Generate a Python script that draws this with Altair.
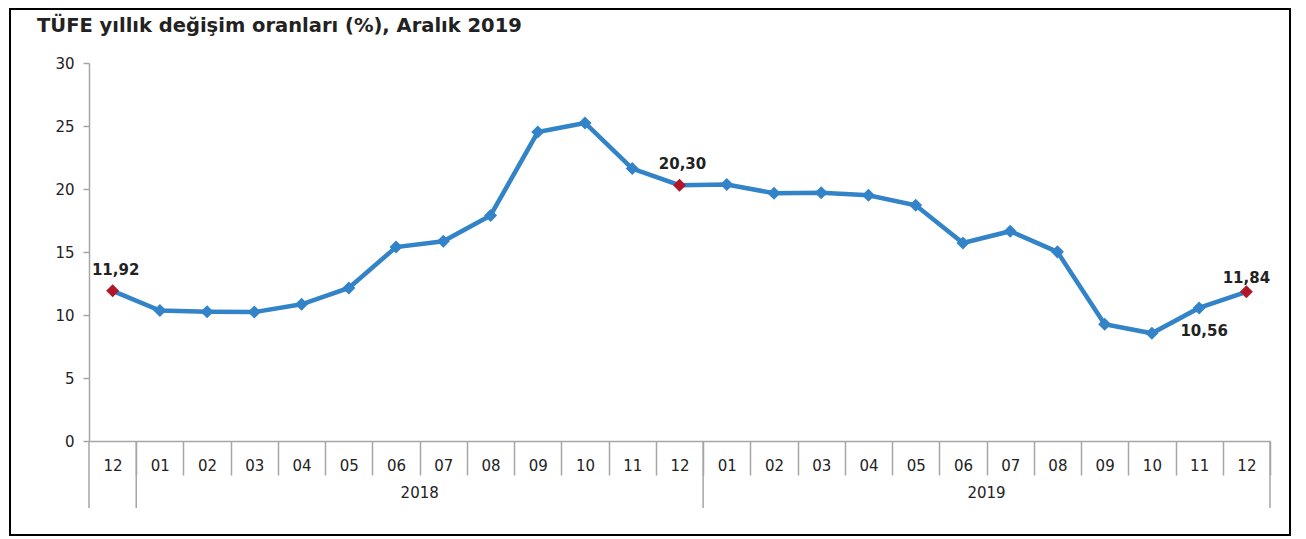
import altair as alt
import pandas as pd

# ---- data ----
months = ["12", "01", "02", "03", "04", "05", "06", "07", "08", "09", "10", "11", "12",
          "01", "02", "03", "04", "05", "06", "07", "08", "09", "10", "11", "12"]
years = ["2017", "2018", "2018", "2018", "2018", "2018", "2018", "2018", "2018", "2018", "2018", "2018", "2018",
         "2019", "2019", "2019", "2019", "2019", "2019", "2019", "2019", "2019", "2019", "2019", "2019"]
values = [11.92, 10.35, 10.26, 10.23, 10.85, 12.15, 15.39, 15.85, 17.90, 24.52, 25.24, 21.62, 20.30,
          20.35, 19.67, 19.71, 19.50, 18.71, 15.72, 16.65, 15.01, 9.26, 8.55, 10.56, 11.84]
highlight_idx = [0, 12, 24]
labels_above_idx = [0, 12]
labels_above_right_idx = [24]
labels_below_idx = [23]
year_names = ["2018", "2019"]
y_ticks = [0, 5, 10, 15, 20, 25, 30]

n = len(values)
df = pd.DataFrame({"i": list(range(n)), "month": months, "year": years, "value": values})
df["label"] = df["value"].map(lambda v: f"{v:.2f}".replace(".", ","))
df["hl"] = df["i"].isin(highlight_idx)

# year group boundaries & centres derived from data
bounds = [-0.5]
for k in range(1, n):
    if years[k] != years[k - 1]:
        bounds.append(k - 0.5)
bounds.append(n - 0.5)
yr_rows = []
for y in year_names:
    idx = [k for k in range(n) if years[k] == y]
    yr_rows.append({"c": (idx[0] + idx[-1]) / 2, "year": y})
yr_df = pd.DataFrame(yr_rows)
bd_df = pd.DataFrame({"b": bounds})

W, H = 1181, 378
band = W / n
FONT = "DejaVu Sans"
AX = "#a6a6a6"
BLUE = "#3283c8"
RED = "#b0182a"
TXT = "#222222"

xscale = alt.Scale(domain=[-0.5, n - 0.5], nice=False, zero=False)
yscale = alt.Scale(domain=[0, 30], nice=False)

month_expr = "[" + ",".join(f"'{m}'" for m in months) + "][datum.value]"

x_enc = alt.X("i:Q", scale=xscale, axis=alt.Axis(
    values=list(range(n)), labelExpr=month_expr, title=None,
    tickOffset=band / 2, labelOffset=-band / 2, tickSize=34, tickColor=AX,
    domainColor=AX, domainWidth=1.5, tickWidth=1.5, labelPadding=-17, labelFont=FONT,
    labelFontSize=15, labelColor=TXT, grid=False, labelFlush=False, labelOverlap=False))
y_enc = alt.Y("value:Q", scale=yscale, axis=alt.Axis(
    values=y_ticks, title=None, tickSize=6, tickColor=AX, domainColor=AX,
    domainWidth=1.5, tickWidth=1.5, labelPadding=9, labelFont=FONT, labelFontSize=15,
    labelColor=TXT, grid=False))

base = alt.Chart(df)

line = base.mark_line(color=BLUE, strokeWidth=4.5).encode(x=x_enc, y=y_enc)
pts = base.mark_point(shape="diamond", filled=True, size=170, opacity=1).encode(
    x="i:Q", y="value:Q",
    color=alt.condition("datum.hl", alt.value(RED), alt.value(BLUE)))

lab_above = alt.Chart(df[df["i"].isin(labels_above_idx)]).mark_text(
    font=FONT, fontSize=15, fontWeight="bold", color=TXT, dy=-21, dx=3).encode(
    x="i:Q", y="value:Q", text="label:N")
lab_above2 = alt.Chart(df[df["i"].isin(labels_above_right_idx)]).mark_text(
    font=FONT, fontSize=15, fontWeight="bold", color=TXT, dy=-14, dx=0).encode(
    x="i:Q", y="value:Q", text="label:N")
lab_below = alt.Chart(df[df["i"].isin(labels_below_idx)]).mark_text(
    font=FONT, fontSize=15, fontWeight="bold", color=TXT, dy=23, dx=5).encode(
    x="i:Q", y="value:Q", text="label:N")

long_ticks = alt.Chart(bd_df).mark_rule(color=AX, strokeWidth=1.5).encode(
    x="b:Q", y=alt.value(H), y2=alt.value(H + 67))
year_text = alt.Chart(yr_df).mark_text(
    font=FONT, fontSize=15, color=TXT, baseline="middle").encode(
    x="c:Q", y=alt.value(H + 52), text="year:N")

frame = alt.Chart(pd.DataFrame({"k": [0]})).mark_rect(
    fill=None, stroke="#000000", strokeWidth=2).encode(
    x=alt.value(-79), x2=alt.value(W + 20), y=alt.value(-54), y2=alt.value(H + 94))

chart = alt.layer(frame, long_ticks, year_text, line, pts, lab_above, lab_above2, lab_below).properties(
    width=W, height=H,
    autosize=alt.AutoSizeParams(type="none"),
    padding={"left": 81, "top": 55, "right": 24, "bottom": 96},
    title=alt.TitleParams(
        "TÜFE yıllık değişim oranları (%), Aralık 2019",
        anchor="start", frame="group", font=FONT, fontSize=19.5, fontWeight="bold",
        color=TXT, dx=-52, offset=-43, baseline="alphabetic"),
).configure(background="white").configure_view(strokeWidth=0, stroke="transparent")

chart.save("out.html", embed_options={"renderer": "svg", "actions": False})
